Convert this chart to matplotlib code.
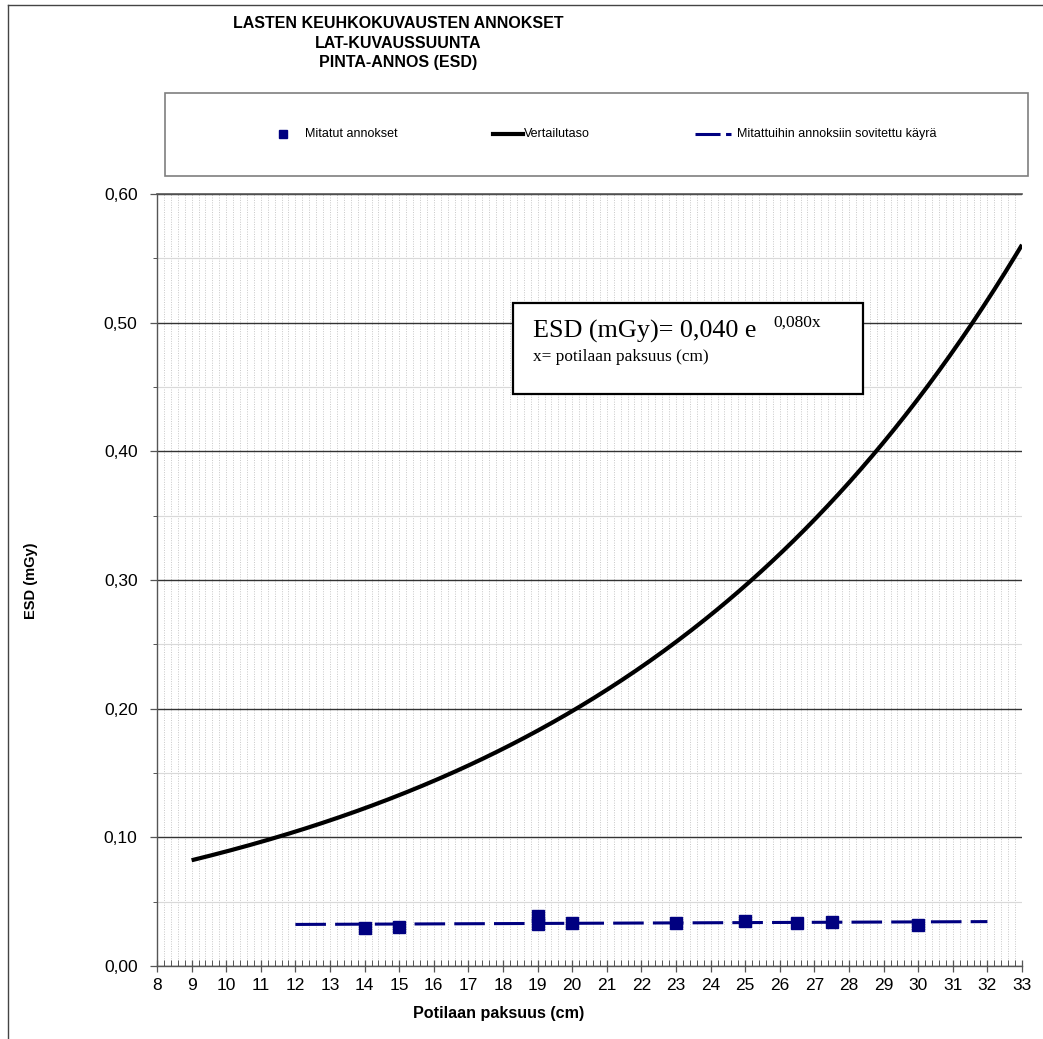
"""
Lasten keuhkokuvausten annokset, LAT-kuvaussuunta: pinta-annos (ESD) potilaan paksuuden funktiona.
Mitatut annokset, vertailutaso (eksponenttikäyrä) ja mitattuihin annoksiin sovitettu käyrä.

Ajo: python plot.py  ->  out.png
"""

import matplotlib

matplotlib.use("Agg")

import matplotlib.pyplot as plt
import numpy as np
from matplotlib.lines import Line2D
from matplotlib.patches import Rectangle
from matplotlib.ticker import FuncFormatter, MultipleLocator

# kuvan koko pikseleinä (dpi 100)
W_PX = 1043
H_PX = 1039
DPI = 100

# akselialue pikseleinä
AX_L, AX_R, AX_T, AX_B = 157, 1022, 194, 966

NAVY = "#000080"
SANS = ["Liberation Sans", "DejaVu Sans"]
SERIF = ["Liberation Serif", "DejaVu Serif"]

TITLE = "LASTEN KEUHKOKUVAUSTEN ANNOKSET\nLAT-KUVAUSSUUNTA\nPINTA-ANNOS (ESD)"
XLABEL = "Potilaan paksuus (cm)"
YLABEL = "ESD (mGy)"
LEGEND_LABELS = ["Mitatut annokset", "Vertailutaso", "Mitattuihin annoksiin sovitettu käyrä"]

# mitatut annokset (cm, mGy)
MEAS_X = [14, 15, 19, 19, 20, 23, 25, 26.5, 27.5, 30]
MEAS_Y = [0.0297, 0.0305, 0.0387, 0.0328, 0.0337, 0.0332, 0.0347, 0.0335, 0.0343, 0.0320]

# mittauksiin sovitettu käyrä (päätepisteet)
FIT_X = [12, 32]
FIT_Y = [0.0323, 0.0345]

# vertailutaso ESD = A * exp(B * x), x = 9 ... 33 cm
REF_A = 0.040
REF_B = 0.080
REF_X_RANGE = (9, 33)

XLIM = (8, 33)
YLIM = (0.0, 0.60)


def px(x, y):
    """Pikselikoordinaatit (vasen yläkulma) -> figure-koordinaatit."""
    return x / W_PX, 1.0 - y / H_PX


def _comma(v, _pos):
    return f"{v:.2f}".replace(".", ",")


def _style_axes(ax):
    ax.set_xlim(*XLIM)
    ax.set_ylim(*YLIM)

    ax.xaxis.set_major_locator(MultipleLocator(1))
    ax.xaxis.set_minor_locator(MultipleLocator(0.2))
    ax.yaxis.set_major_locator(MultipleLocator(0.1))
    ax.yaxis.set_minor_locator(MultipleLocator(0.05))
    ax.yaxis.set_major_formatter(FuncFormatter(_comma))

    dotted = (0, (1, 1.5))
    ax.grid(which="both", axis="x", color="#c8c8c8", linestyle=dotted, linewidth=0.7)
    ax.grid(which="minor", axis="y", color="#d9d9d9", linestyle="-", linewidth=0.8)
    ax.grid(which="major", axis="y", color="#333333", linestyle="-", linewidth=1.0)
    ax.set_axisbelow(True)

    ax.spines["right"].set_visible(False)
    ax.spines["top"].set_color("#555555")
    ax.spines["top"].set_linewidth(1.2)
    for side in ("left", "bottom"):
        ax.spines[side].set_color("#555555")
        ax.spines[side].set_linewidth(1.0)

    ax.tick_params(axis="x", which="major", direction="inout", length=9, width=0.9,
                   color="#555555", labelsize=12.5, pad=4)
    ax.tick_params(axis="x", which="minor", direction="in", length=4, width=0.7, color="#555555")
    ax.tick_params(axis="y", which="major", direction="out", length=5, width=0.9,
                   color="#555555", labelsize=12.5, pad=9)
    ax.tick_params(axis="y", which="minor", direction="out", length=3, width=0.7, color="#555555")
    for t in ax.get_xticklabels() + ax.get_yticklabels():
        t.set_family(SANS)


def _legend_box(fig):
    x0, y0 = px(165, 176)
    x1, y1 = px(1028, 93)
    fig.patches.append(Rectangle((x0, y0), x1 - x0, y1 - y0, transform=fig.transFigure,
                                 facecolor="white", edgecolor="#7f7f7f", linewidth=1.2))
    yc = px(0, 134)[1]
    fs = 9

    mx = px(283, 0)[0]
    fig.lines.append(Line2D([mx], [yc], transform=fig.transFigure, marker="s",
                            markersize=6, color=NAVY, linestyle="none"))
    fig.text(px(305, 0)[0], yc, LEGEND_LABELS[0], fontsize=fs, family=SANS, va="center")

    fig.lines.append(Line2D([px(493, 0)[0], px(523, 0)[0]], [yc, yc], transform=fig.transFigure,
                            color="black", linewidth=3))
    fig.text(px(524, 0)[0], yc, LEGEND_LABELS[1], fontsize=fs, family=SANS, va="center")

    fig.lines.append(Line2D([px(695, 0)[0], px(731, 0)[0]], [yc, yc], transform=fig.transFigure,
                            color=NAVY, linewidth=2.2, dashes=(8.2, 1.8)))
    fig.text(px(737, 0)[0], yc, LEGEND_LABELS[2], fontsize=fs, family=SANS, va="center")


def _formula_box(fig):
    x0, y0 = px(513, 394)
    x1, y1 = px(863, 303)
    fig.patches.append(Rectangle((x0, y0), x1 - x0, y1 - y0, transform=fig.transFigure,
                                 facecolor="white", edgecolor="black", linewidth=1.6, zorder=5))
    main = f"ESD (mGy)= {REF_A:.3f} e".replace(".", ",")
    sup = f"{REF_B:.3f}x".replace(".", ",")
    fig.text(*px(533, 338), main, fontsize=18.8, family=SERIF, va="baseline", zorder=6)
    fig.text(*px(773, 327), sup, fontsize=12.5, family=SERIF, va="baseline", zorder=6)
    fig.text(*px(533, 361), "x= potilaan paksuus (cm)", fontsize=12.4, family=SERIF,
             va="baseline", zorder=6)


def main():
    fig = plt.figure(figsize=(W_PX / DPI, H_PX / DPI), dpi=DPI)
    fig.patch.set_facecolor("white")

    left, bottom = px(AX_L, AX_B)
    right, top = px(AX_R, AX_T)
    ax = fig.add_axes([left, bottom, right - left, top - bottom])

    # vertailutaso
    x_ref = np.linspace(REF_X_RANGE[0], REF_X_RANGE[1], 300)
    ax.plot(x_ref, REF_A * np.exp(REF_B * x_ref), color="black", linewidth=3,
            solid_capstyle="butt", zorder=3)

    # sovitettu käyrä
    ax.plot(FIT_X, FIT_Y, color=NAVY, linewidth=2.2, dashes=(10, 3), zorder=3)

    # mitatut annokset
    ax.plot(MEAS_X, MEAS_Y, linestyle="none", marker="s", markersize=8, color=NAVY, zorder=4)

    _style_axes(ax)

    ax.set_xlabel(XLABEL, fontsize=11.6, fontweight="bold", family=SANS)
    ax.set_ylabel(YLABEL, fontsize=10.5, fontweight="bold", family=SANS)
    ax_w = AX_R - AX_L
    ax_h = AX_B - AX_T
    ax.xaxis.set_label_coords((499 - AX_L) / ax_w, -(1006 - AX_B) / ax_h)
    ax.yaxis.set_label_coords(-(AX_L - 38) / ax_w, (AX_B - 581) / ax_h)

    fig.text(*px(398, 43), TITLE, fontsize=11.5, fontweight="bold", family=SANS,
             ha="center", va="center", linespacing=1.4)

    _legend_box(fig)
    _formula_box(fig)

    # kehys kuvan ylä- ja vasemmassa reunassa
    fig.lines.append(Line2D([px(8, 0)[0], 1.0], [px(0, 5)[1]] * 2, transform=fig.transFigure,
                            color="#444444", linewidth=1.0))
    fig.lines.append(Line2D([px(8, 0)[0]] * 2, [px(0, 5)[1], 0.0], transform=fig.transFigure,
                            color="#444444", linewidth=1.0))

    fig.savefig("out.png", dpi=DPI)
    plt.close(fig)


if __name__ == "__main__":
    main()
